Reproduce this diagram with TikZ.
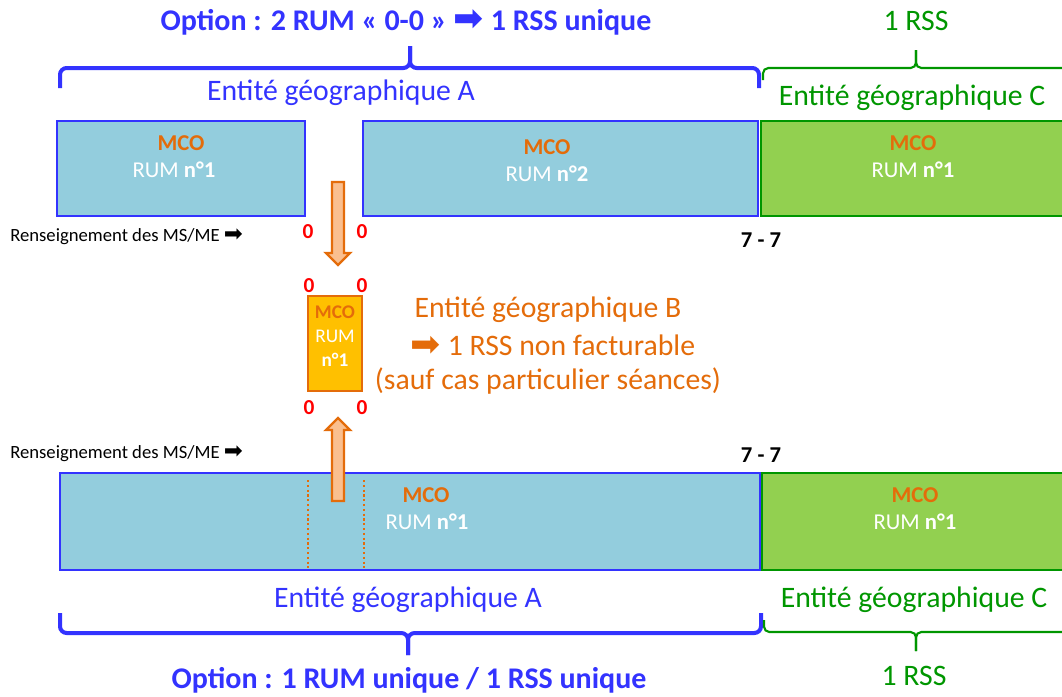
\documentclass[tikz,border=0pt]{standalone}
\usepackage{fontspec}
\setmainfont{Carlito}
\newfontfamily\dejavu{DejaVu Sans}
\usetikzlibrary{fit}
\definecolor{bl}{RGB}{51,51,255}
\definecolor{boxblue}{RGB}{147,205,221}
\definecolor{boxgreen}{RGB}{146,208,80}
\definecolor{gr}{RGB}{0,150,0}
\definecolor{orng}{RGB}{228,108,10}
\definecolor{lorng}{RGB}{250,191,143}
\definecolor{gold}{RGB}{255,192,0}
\newcommand{\arr}{{\dejavu\char"27A1}}
\begin{document}
\begin{tikzpicture}[x=0.75pt,y=-0.75pt,
  bbox/.style={draw=bl,fill=boxblue,line width=2.2pt,inner sep=0pt},
  gbox/.style={draw=gr,fill=boxgreen,line width=2.2pt,inner sep=0pt},
  obox/.style={draw=orng,fill=gold,line width=2.2pt,inner sep=0pt},
  mco/.style={text=orng,font=\fontsize{17}{19}\selectfont\bfseries,inner sep=0pt},
  rum/.style={text=white,font=\fontsize{17}{19}\selectfont,inner sep=0pt},
  zero/.style={text=red,font=\fontsize{16}{18}\selectfont\bfseries,inner sep=0pt},
  ent/.style={font=\fontsize{22.3}{25}\selectfont,inner sep=0pt},
  opt/.style={text=bl,font=\fontsize{22.5}{25}\selectfont\bfseries,inner sep=0pt},
  rens/.style={font=\fontsize{14}{16}\selectfont,inner sep=0pt,anchor=west},
  sev/.style={font=\fontsize{17}{19}\selectfont\bfseries,inner sep=0pt},
  bbrace/.style={draw=bl,line width=3pt,rounded corners=5pt},
  gbrace/.style={draw=gr,line width=1.6pt,rounded corners=4pt},
  oarrow/.style={draw=orng,fill=lorng,line width=1.8pt},
  dotl/.style={draw=orng,line width=1.6pt,dotted}]
\useasboundingbox (0,0) rectangle (1062,696);

% ---- top row
\node[opt] (opt1) at (406,22) {Option : 2 RUM « 0-0 » \raisebox{-0.5pt}{\fontsize{27}{27}\selectfont\arr} 1 RSS unique};
\node[ent,text=gr] (rss1) at (916,21) {1 RSS};
\draw[bbrace] (60,88) -- (60,68) -- (410,68) -- (410,46);
\draw[bbrace] (410,46) -- (410,68) -- (759,68) -- (759,88);
\draw[gbrace] (763,80) -- (763,68) -- (916,68) -- (916,50);
\draw[gbrace] (916,50) -- (916,68) -- (1064,68);
\node[ent,text=bl] (entA1) at (341,93) {Entité géographique A};
\node[ent,text=gr] (entC1) at (912,98) {Entité géographique C};

\node[bbox,fit={(57,121)(305,216)}] (r1) {};
\node[bbox,fit={(363,121)(758,216)}] (r2) {};
\node[gbox,fit={(761,121)(1066,216)}] (r3) {};
\node[mco] (r1m) at (181,143) {MCO};
\node[rum] (r1t) at (174,170) {RUM \textbf{n°1}};
\node[mco] (r2m) at (547,147) {MCO};
\node[rum] (r2t) at (547,174) {RUM \textbf{n°2}};
\node[mco] (r3m) at (913,143) {MCO};
\node[rum] (r3t) at (913,170) {RUM \textbf{n°1}};

\node[rens] (rens1) at (10,237) {Renseignement des MS/ME {\fontsize{17}{17}\selectfont\arr}};
\node[zero] (z1) at (308,232) {0};
\node[zero] (z2) at (362,232) {0};
\node[sev] (s1) at (761,240) {7 - 7};

% ---- middle
\draw[oarrow] (332,182) -- (344,182) -- (344,253) -- (350,253) -- (338,265) -- (326,253) -- (332,253) -- cycle;
\node[zero] (z3) at (309,286) {0};
\node[zero] (z4) at (362,286) {0};
\node[obox,fit={(308,296)(362,391)}] (mb) {};
\node[mco,font=\fontsize{14.5}{16}\selectfont\bfseries] (mbm) at (335,312) {MCO};
\node[rum,font=\fontsize{14.5}{16}\selectfont] (mbr) at (335,336) {RUM};
\node[rum,font=\fontsize{14.5}{16}\selectfont\bfseries] (mbn) at (335,360) {n°1};
\node[zero] (z5) at (309,408) {0};
\node[zero] (z6) at (362,408) {0};
\node[ent,text=orng] (entB1) at (548,310) {Entité géographique B};
\node[ent,text=orng] (entB2) at (553,346) {\raisebox{-0.5pt}{\fontsize{27}{27}\selectfont\arr} 1 RSS non facturable};
\node[ent,text=orng] (entB3) at (548,381) {(sauf cas particulier séances)};

\node[rens] (rens2) at (10,454) {Renseignement des MS/ME {\fontsize{17}{17}\selectfont\arr}};
\node[sev] (s2) at (761,455) {7 - 7};

% ---- bottom row
\node[bbox,fit={(60,473)(760,570)}] (b1) {};
\node[gbox,fit={(762,473)(1066,570)}] (b2) {};
\draw[dotl] (308,480) -- (308,568);
\draw[dotl] (364,480) -- (364,568);
\draw[oarrow] (332,501) -- (344,501) -- (344,430) -- (350,430) -- (338,418) -- (326,430) -- (332,430) -- cycle;
\node[mco] (b1m) at (426,495) {MCO};
\node[rum] (b1t) at (427,522) {RUM \textbf{n°1}};
\node[mco] (b2m) at (915,495) {MCO};
\node[rum] (b2t) at (915,522) {RUM \textbf{n°1}};

\node[ent,text=bl] (entA2) at (408,600) {Entité géographique A};
\node[ent,text=gr] (entC2) at (914,600) {Entité géographique C};
\draw[bbrace] (60,613) -- (60,633) -- (408,633) -- (408,655);
\draw[bbrace] (408,655) -- (408,633) -- (761,633) -- (761,613);
\draw[gbrace] (764,620) -- (764,632) -- (916,632) -- (916,651);
\draw[gbrace] (916,651) -- (916,632) -- (1064,632);
\node[opt] (opt2) at (409,680) {Option : 1 RUM unique / 1 RSS unique};
\node[ent,text=gr] (rss2) at (914,676) {1 RSS};
\end{tikzpicture}
\end{document}
